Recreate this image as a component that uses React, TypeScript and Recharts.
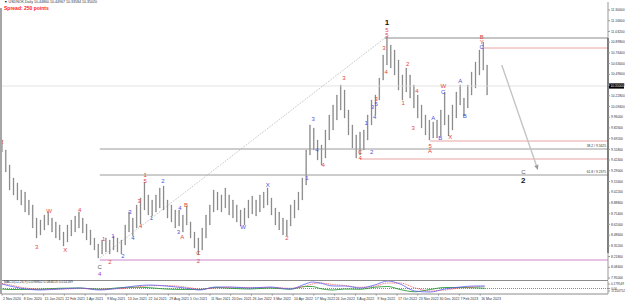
import React from 'react';
import { ComposedChart, Bar, Scatter, Line, XAxis, YAxis, ReferenceLine } from 'recharts';

const symbolTitle = 'USDNOK,Daily  10.44860 10.44967 10.33584 10.35020';
const spreadText = 'Spread: 250 points';
const macdTitle = 'MACD(12,26,9) 0.098802 0.084613 0.014189';

// 5-day chunks of daily candles (high / low)
const highs = [
  9.675, 9.55, 9.363, 9.2, 9.138, 9.05, 9.025, 8.925, 8.863, 8.7,
  8.675, 8.738, 8.775, 8.7, 8.65, 8.613, 8.525, 8.613, 8.675, 8.725,
  8.775, 8.7, 8.625, 8.55, 8.45, 8.375, 8.425, 8.45, 8.425, 8.475,
  8.45, 8.425, 8.613, 8.775, 8.7, 8.863, 8.95, 9.15, 8.988, 8.925,
  8.988, 9.075, 9.1, 8.925, 8.863, 8.8, 8.8, 8.738, 8.85, 8.65,
  8.525, 8.45, 8.575, 8.738, 8.863, 9.05, 9.025, 8.988, 9.075, 8.988,
  8.925, 8.863, 8.8, 8.825, 8.925, 8.975, 8.925, 8.988, 9.025, 9.075,
  8.95, 8.825, 8.775, 8.7, 8.675, 8.863, 8.925, 9.025, 9.2, 9.55,
  9.863, 9.825, 9.675, 9.613, 9.8, 9.988, 10.113, 10.238, 10.363, 10.3,
  10.05, 9.863, 9.738, 9.775, 9.8, 9.988, 10.175, 10.238, 10.45, 10.738,
  10.963, 10.863, 10.8, 10.675, 10.488, 10.575, 10.488, 10.363, 10.238, 10.113,
  9.988, 9.925, 9.9, 9.925, 10.05, 10.275, 9.988, 10.113, 10.275, 10.363,
  10.2, 10.363, 10.525, 10.65, 10.8, 10.9, 10.613,
];
const lows = [
  9.525, 9.275, 9.05, 8.988, 8.925, 8.863, 8.775, 8.738, 8.575, 8.45,
  8.488, 8.55, 8.613, 8.525, 8.45, 8.425, 8.35, 8.4, 8.475, 8.525,
  8.575, 8.513, 8.425, 8.363, 8.3, 8.2, 8.25, 8.275, 8.25, 8.3,
  8.275, 8.25, 8.363, 8.525, 8.475, 8.575, 8.625, 8.8, 8.738, 8.725,
  8.775, 8.825, 8.8, 8.7, 8.65, 8.575, 8.6, 8.525, 8.613, 8.45,
  8.325, 8.238, 8.3, 8.45, 8.613, 8.775, 8.8, 8.775, 8.825, 8.738,
  8.7, 8.65, 8.6, 8.613, 8.7, 8.75, 8.725, 8.775, 8.825, 8.863,
  8.738, 8.613, 8.55, 8.488, 8.475, 8.6, 8.7, 8.8, 8.925, 9.113,
  9.488, 9.55, 9.425, 9.363, 9.45, 9.675, 9.8, 9.925, 10.05, 9.95,
  9.738, 9.575, 9.45, 9.488, 9.55, 9.675, 9.863, 9.988, 10.175, 10.425,
  10.613, 10.575, 10.488, 10.3, 10.175, 10.275, 10.2, 10.075, 9.95, 9.825,
  9.738, 9.675, 9.7, 9.7, 9.725, 9.863, 9.725, 9.8, 9.95, 10.113,
  9.975, 10.075, 10.238, 10.325, 10.488, 10.55, 10.238,
];
const BARS_PER_CHUNK = 5;

const priceTicks = [
  11.3, 11.166, 11.032, 10.898, 10.764, 10.63, 10.496, 10.362, 10.228, 10.094,
  9.96, 9.826, 9.692, 9.558, 9.424, 9.29, 9.156, 9.022, 8.888, 8.754,
  8.62, 8.486, 8.352, 8.218, 8.084, 7.95,
];
const bidPrice = 10.35;

const dateBars = [0, 27, 54, 81, 108, 135, 162, 189, 216, 243, 270, 297, 324, 351, 378, 405, 432, 459, 486, 513, 540, 567, 594, 621];
const dateLabels = [
  '2 Nov 2020', '8 Dec 2020', '15 Jan 2021', '22 Feb 2021', '1 Apr 2021', '9 May 2021',
  '13 Jun 2021', '22 Jul 2021', '29 Aug 2021', '5 Oct 2021', '11 Nov 2021', '20 Dec 2021',
  '26 Jan 2022', '3 Mar 2022', '10 Apr 2022', '17 May 2022', '24 Jun 2022', '3 Aug 2022',
  '9 Sep 2022', '17 Oct 2022', '23 Nov 2022', '30 Dec 2022', '7 Feb 2023', '16 Mar 2023',
];

// Elliott wave labels: bar index, price, text, degree
const waveLabels = [
  { bar: 0, price: 9.65, t: '2', d: 'minor' },
  { bar: 45, price: 8.338, t: '3', d: 'minor' },
  { bar: 61, price: 8.788, t: 'W', d: 'minor' },
  { bar: 82, price: 8.3, t: 'X', d: 'minor' },
  { bar: 101, price: 8.8, t: '4', d: 'minor' },
  { bar: 127, price: 8.088, t: 'C', d: 'intermediate' },
  { bar: 127, price: 8.0, t: '4', d: 'primary' },
  { bar: 132, price: 8.438, t: '1', d: 'minor' },
  { bar: 140, price: 8.15, t: '2', d: 'minor' },
  { bar: 144, price: 8.475, t: '1', d: 'minute' },
  { bar: 157, price: 8.225, t: '2', d: 'minute' },
  { bar: 166, price: 8.775, t: '3', d: 'minute' },
  { bar: 170, price: 8.45, t: '4', d: 'minute' },
  { bar: 178, price: 8.913, t: '3', d: 'minor' },
  { bar: 180, price: 8.6, t: '4', d: 'minor' },
  { bar: 186, price: 9.238, t: '1', d: 'minor' },
  { bar: 186, price: 9.163, t: '5', d: 'minor' },
  { bar: 194, price: 8.7, t: '1', d: 'minute' },
  { bar: 209, price: 9.163, t: '2', d: 'minute' },
  { bar: 229, price: 8.525, t: '3', d: 'minute' },
  { bar: 231, price: 8.825, t: '4', d: 'minute' },
  { bar: 234, price: 8.463, t: 'A', d: 'minor' },
  { bar: 239, price: 8.863, t: 'B', d: 'minor' },
  { bar: 255, price: 8.263, t: 'C', d: 'minor' },
  { bar: 255, price: 8.163, t: '2', d: 'minor' },
  { bar: 313, price: 8.588, t: 'W', d: 'minute' },
  { bar: 345, price: 9.113, t: 'X', d: 'minute' },
  { bar: 370, price: 8.45, t: '2', d: 'minor' },
  { bar: 396, price: 9.2, t: '1', d: 'minute' },
  { bar: 404, price: 9.938, t: '3', d: 'minute' },
  { bar: 409, price: 9.55, t: '4', d: 'minute' },
  { bar: 417, price: 9.363, t: '4', d: 'minor' },
  { bar: 444, price: 10.45, t: '3', d: 'minor' },
  { bar: 465, price: 9.525, t: 'C', d: 'minor' },
  { bar: 465, price: 9.45, t: '4', d: 'minor' },
  { bar: 480, price: 9.525, t: '2', d: 'minute' },
  { bar: 473, price: 9.888, t: '1', d: 'minute' },
  { bar: 481, price: 10.088, t: '3', d: 'minute' },
  { bar: 484, price: 9.963, t: '4', d: 'minute' },
  { bar: 486, price: 10.188, t: '3', d: 'minor' },
  { bar: 486, price: 10.125, t: '5', d: 'minute' },
  { bar: 496, price: 10.825, t: '3', d: 'minor' },
  { bar: 499, price: 10.525, t: '4', d: 'minor' },
  { bar: 500, price: 11.05, t: '5', d: 'minor' },
  { bar: 500, price: 10.988, t: '5', d: 'minor' },
  { bar: 500, price: 11.15, t: '1', d: 'cycle' },
  { bar: 521, price: 10.138, t: '1', d: 'minor' },
  { bar: 527, price: 10.625, t: '2', d: 'minor' },
  { bar: 534, price: 9.825, t: '3', d: 'minor' },
  { bar: 539, price: 10.288, t: '4', d: 'minor' },
  { bar: 556, price: 9.6, t: '5', d: 'minor' },
  { bar: 556, price: 9.54, t: 'A', d: 'minor' },
  { bar: 560, price: 9.95, t: 'A', d: 'minute' },
  { bar: 569, price: 9.7, t: 'B', d: 'minute' },
  { bar: 573, price: 10.35, t: 'W', d: 'minor' },
  { bar: 573, price: 10.275, t: 'C', d: 'minute' },
  { bar: 582, price: 9.713, t: 'X', d: 'minor' },
  { bar: 595, price: 10.413, t: 'A', d: 'minute' },
  { bar: 601, price: 9.975, t: 'B', d: 'minute' },
  { bar: 623, price: 10.963, t: 'B', d: 'minor' },
  { bar: 623, price: 10.9, t: 'Y', d: 'minor' },
  { bar: 623, price: 10.838, t: 'C', d: 'minute' },
  { bar: 677, price: 9.275, t: 'C', d: 'intermediate' },
  { bar: 677, price: 9.175, t: '2', d: 'cycle' },
];

// horizontal levels: start bar, price, kind
const levels = [
  { from: 497, price: 10.95, kind: 'high' },
  { from: 623, price: 10.825, kind: 'red' },
  { from: 556, price: 9.6625, kind: 'red' },
  { from: 465, price: 9.4375, kind: 'red' },
  { from: 127, price: 8.175, kind: 'low' },
];
const fibLevels = [
  { ratio: '38.2', from: 127, price: 9.5625 },
  { ratio: '61.8', from: 127, price: 9.2375 },
];
const trendFrom = { bar: 127, price: 8.2 };
const trendTo = { bar: 499, price: 10.9625 };
const arrowFrom = { bar: 649, price: 10.6125 };
const arrowTo = { bar: 696, price: 9.3 };
const axisRangeTop = 10.95;
const axisRangeBottom = 8.263;

// MACD panel
const macdBars = [0, 10, 23, 49, 75, 101, 127, 153, 173, 192, 212, 238, 257, 277, 296, 322, 348, 374, 394, 403, 413, 430, 445, 465, 484, 501, 517, 536, 556, 575, 595, 614, 627];
const macdMain = [0.18, 0.1, 0.02, -0.06, -0.02, 0.02, -0.06, 0.02, 0.1, 0.14, 0.1, 0.02, -0.06, 0.06, 0.06, 0.02, 0.06, -0.02, 0.18, 0.26, 0.22, 0.1, 0.1, 0.02, 0.14, 0.3, 0.18, -0.1, -0.14, -0.02, 0.06, 0.1, 0.1];
const macdSignal = [0.2, 0.15, 0.06, -0.03, -0.03, 0.0, -0.03, -0.01, 0.05, 0.11, 0.12, 0.06, -0.02, 0.02, 0.05, 0.04, 0.04, 0.01, 0.1, 0.18, 0.22, 0.16, 0.12, 0.05, 0.09, 0.22, 0.22, 0.03, -0.1, -0.06, 0.02, 0.07, 0.09];
const macdOsma = [-0.02, -0.04, -0.04, -0.03, 0.01, 0.02, -0.03, 0.03, 0.05, 0.03, -0.02, -0.04, -0.04, 0.04, 0.01, -0.02, 0.02, -0.03, 0.08, 0.08, 0.0, -0.06, -0.02, -0.03, 0.05, 0.08, -0.04, -0.13, -0.04, 0.04, 0.04, 0.03, 0.01];
const macdTicks = [0.18, 0, -0.1];
const macdTickLabels = ['0.179549', '0.00', '-0.104752'];

const X_DOMAIN: [number, number] = [0, 787];
const Y_DOMAIN: [number, number] = [7.925, 11.4];

const degreeColor: Record<string, string> = {
  minor: '#e2463f',
  minute: '#5050dc',
  intermediate: '#555555',
  primary: '#9a3fc8',
  cycle: '#111111',
};
const levelColor: Record<string, string> = {
  high: '#8a8a8a',
  red: '#e8a4a4',
  low: '#dcaede',
};

const candles = highs.map((h, i) => ({ bar: i * BARS_PER_CHUNK, range: [lows[i], h] }));
const macdRows = macdBars.map((b, i) => ({ bar: b, macd: macdMain[i], signal: macdSignal[i], osma: macdOsma[i] }));

const FONT = '"Liberation Sans", Arial, sans-serif';

const WaveLabel = (p: any) => {
  const d = p.payload.d;
  const big = d === 'cycle';
  return (
    <text
      x={p.cx}
      y={p.cy}
      fill={degreeColor[d]}
      fontSize={big ? 8 : 6}
      fontWeight={big ? 700 : 400}
      textAnchor="middle"
      dominantBaseline="central"
      fontFamily={FONT}
    >
      {p.payload.t}
    </text>
  );
};

const ArrowShape = (p: any) => {
  const { x1, y1, x2, y2 } = p;
  const ang = Math.atan2(y2 - y1, x2 - x1);
  const L = 5;
  const W2 = 2.2;
  const bx = x2 - L * Math.cos(ang);
  const by = y2 - L * Math.sin(ang);
  const px = -Math.sin(ang) * W2;
  const py = Math.cos(ang) * W2;
  return (
    <g>
      <line x1={x1} y1={y1} x2={bx} y2={by} stroke="#c4c4c4" strokeWidth={1.4} />
      <polygon points={`${x2},${y2} ${bx + px},${by + py} ${bx - px},${by - py}`} fill="#9a9a9a" />
    </g>
  );
};

const DateTick = (p: any) => {
  const idx = dateBars.indexOf(p.payload.value);
  return (
    <text x={p.x + 1} y={p.y + 4.2} fontSize={3.5} fill="#333" fontFamily={FONT} textAnchor="start">
      {dateLabels[idx]}
    </text>
  );
};

export default function App() {
  return (
    <div style={{ position: 'absolute', left: 0, top: 0, width: 625, height: 301, background: '#fff', fontFamily: FONT, overflow: 'hidden' }}>
      <ComposedChart width={625} height={281} data={candles} margin={{ top: 2, right: 0, left: 2, bottom: 1 }} style={{ position: 'absolute', left: 0, top: 0 }}>
        <XAxis type="number" dataKey="bar" domain={X_DOMAIN} hide allowDataOverflow />
        <YAxis
          orientation="right"
          type="number"
          domain={Y_DOMAIN}
          ticks={priceTicks}
          interval={0}
          width={17}
          tickSize={2}
          tickMargin={1}
          tick={{ fontSize: 3.3, fill: '#333' }}
          tickFormatter={(v: number) => v.toFixed(5)}
          stroke="#999"
          allowDataOverflow
        />
        <ReferenceLine
          y={bidPrice}
          stroke="#dcdcdc"
          strokeWidth={0.8}
          label={{
            content: (lp: any) => {
              const vb = lp.viewBox;
              const x = vb.x + vb.width + 1;
              return (
                <g>
                  <rect x={x} y={vb.y - 2.6} width={15} height={5.2} fill="#000" />
                  <text x={x + 1.5} y={vb.y + 1.2} fontSize={3.3} fill="#fff" fontFamily={FONT}>
                    {bidPrice.toFixed(5)}
                  </text>
                </g>
              );
            },
          }}
        />
        {levels.map((l, i) => (
          <ReferenceLine
            key={'lv' + i}
            segment={[{ x: l.from, y: l.price }, { x: X_DOMAIN[1], y: l.price }]}
            stroke={levelColor[l.kind]}
            strokeWidth={l.kind === 'low' ? 1.4 : 1}
            ifOverflow="visible"
          />
        ))}
        {fibLevels.map((f, i) => (
          <ReferenceLine
            key={'fib' + i}
            segment={[{ x: f.from, y: f.price }, { x: X_DOMAIN[1], y: f.price }]}
            stroke="#9a9a9a"
            strokeWidth={1}
            ifOverflow="visible"
            label={{
              content: (lp: any) => {
                const vb = lp.viewBox;
                return (
                  <text x={vb.x + vb.width - 2} y={vb.y - 1.6} fontSize={3.3} fill="#333" textAnchor="end" fontFamily={FONT}>
                    {`${f.ratio} / ${f.price.toFixed(4)}`}
                  </text>
                );
              },
            }}
          />
        ))}
        <ReferenceLine
          segment={[{ x: trendFrom.bar, y: trendFrom.price }, { x: trendTo.bar, y: trendTo.price }]}
          stroke="#a8a8a8"
          strokeDasharray="1 1.2"
          strokeWidth={0.8}
          ifOverflow="visible"
        />
        <ReferenceLine
          segment={[{ x: X_DOMAIN[1], y: axisRangeTop }, { x: X_DOMAIN[1], y: axisRangeBottom }]}
          stroke="#000"
          strokeWidth={1.2}
          ifOverflow="visible"
        />
        <Bar dataKey="range" fill="#7c7c7c" stroke="#5e5e5e" strokeWidth={0.3} barSize={3} isAnimationActive={false} />
        <ReferenceLine
          segment={[{ x: arrowFrom.bar, y: arrowFrom.price }, { x: arrowTo.bar, y: arrowTo.price }]}
          shape={ArrowShape}
          ifOverflow="visible"
        />
        <Scatter data={waveLabels} dataKey="price" shape={WaveLabel} isAnimationActive={false} />
      </ComposedChart>

      <div style={{ position: 'absolute', left: 0, top: 280, width: 608, height: 1, background: '#8c8c8c' }} />
      <div style={{ position: 'absolute', left: 0, top: 8, width: 2, height: 286, background: '#a6a6a6' }} />

      <ComposedChart width={625} height={21} data={macdRows} margin={{ top: 1, right: 0, left: 2, bottom: 0 }} style={{ position: 'absolute', left: 0, top: 280 }}>
        <XAxis
          type="number"
          dataKey="bar"
          domain={X_DOMAIN}
          ticks={dateBars}
          interval={0}
          height={7}
          tickSize={1.5}
          tickMargin={0}
          tick={DateTick}
          stroke="#8c8c8c"
          allowDataOverflow
        />
        <YAxis
          orientation="right"
          type="number"
          domain={[-0.22, 0.3]}
          ticks={macdTicks}
          interval={0}
          width={17}
          tickSize={2}
          tickMargin={1}
          tick={{ fontSize: 3.1, fill: '#333' }}
          tickFormatter={(v: number) => macdTickLabels[macdTicks.indexOf(v)]}
          stroke="#999"
          allowDataOverflow
        />
        <ReferenceLine y={0} stroke="#8c8c8c" strokeDasharray="1 1" />
        <Line dataKey="osma" stroke="#2e9a3a" strokeWidth={0.9} dot={false} type="monotone" isAnimationActive={false} />
        <Line dataKey="signal" stroke="#f04a4a" strokeWidth={0.8} strokeDasharray="1 0.8" dot={false} type="monotone" isAnimationActive={false} />
        <Line dataKey="macd" stroke="#6060f0" strokeWidth={0.8} dot={false} type="monotone" isAnimationActive={false} />
      </ComposedChart>

      <div style={{ position: 'absolute', left: 4, top: 281, fontSize: 3.4, color: '#333', whiteSpace: 'nowrap', lineHeight: 1 }}>{macdTitle}</div>
      <div style={{ position: 'absolute', left: 4, top: 1, fontSize: 3.6, color: '#333', whiteSpace: 'nowrap', lineHeight: 1 }}>▼ {symbolTitle}</div>
      <div style={{ position: 'absolute', left: 4, top: 6, fontSize: 5, color: '#ff2020', fontWeight: 700, whiteSpace: 'nowrap', lineHeight: 1 }}>{spreadText}</div>
    </div>
  );
}
